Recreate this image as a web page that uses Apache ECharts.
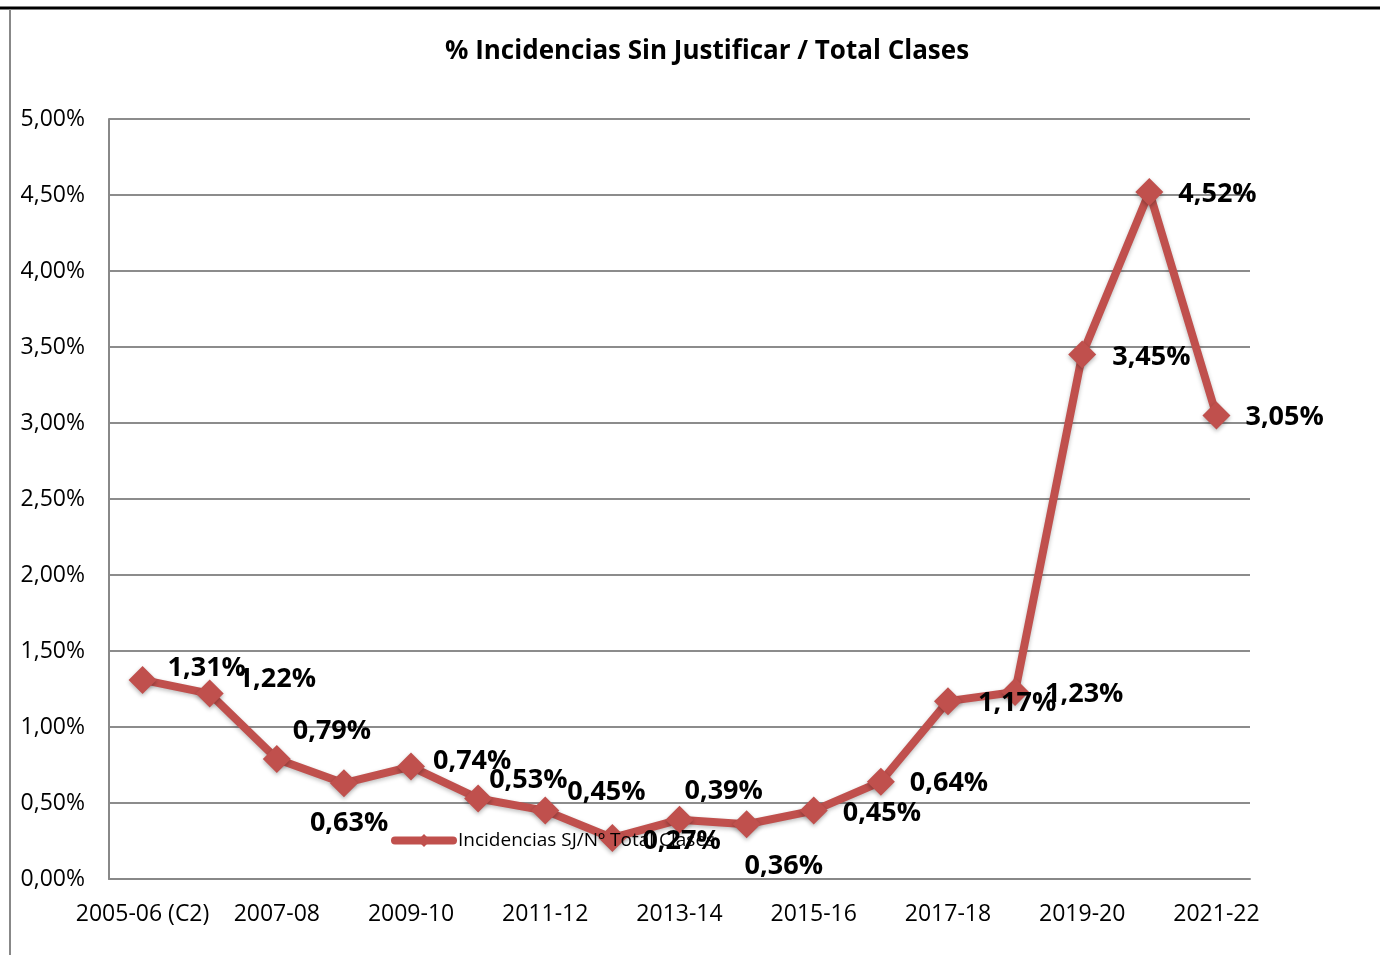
<!DOCTYPE html>
<html>
<head>
<meta charset="utf-8">
<script src="https://cdn.jsdelivr.net/npm/echarts@6/dist/echarts.min.js"></script>
<style>
html,body{margin:0;padding:0;background:#fff;}
#chart{width:1380px;height:955px;}
</style>
</head>
<body>
<div id="chart"></div>
<script>
const categories = ['2005-06 (C2)','2006-07','2007-08','2008-09','2009-10','2010-11','2011-12','2012-13','2013-14','2014-15','2015-16','2016-17','2017-18','2018-19','2019-20','2020-21','2021-22'];
const values = [1.31,1.22,0.79,0.63,0.74,0.53,0.45,0.27,0.39,0.36,0.45,0.64,1.17,1.23,3.45,4.52,3.05];
const seriesName = 'Incidencias SJ/Nº Total Clases';
const titleText = '% Incidencias Sin Justificar / Total Clases';

// label placement tweaks (styling only)
const labelOffsets = [[-3,-12],[0,-14],[-12,-28],[-62,40],[-6,-5],[-17,-18],[-6,-18],[2,3],[-23,-28],[-30,42],[1,3],[1,2],[2,2],[2,2],[2,3],[1,2],[1,2]];

const FONT = '"Open Sans", Lato, sans-serif';
const fmt = v => v.toFixed(2).replace('.', ',') + '%';

const chart = echarts.init(document.getElementById('chart'), null, {renderer:'canvas'});
chart.setOption({
  backgroundColor:'#fff',
  animation:false,
  title:{
    text:titleText, left:440, top:34,
    textStyle:{fontFamily:FONT, fontSize:26, fontWeight:'bold', color:'#000'}
  },
  legend:{
    data:[seriesName], left:386, top:826,
    itemWidth:58, itemHeight:16, itemGap:3,
    lineStyle:{width:8, cap:'round'},
    textStyle:{fontFamily:FONT, fontSize:19, color:'#000'}
  },
  grid:{left:109, right:130, top:119, bottom:76, containLabel:false},
  xAxis:{
    type:'category', data:categories, boundaryGap:true,
    axisLine:{lineStyle:{color:'#888', width:2}},
    axisTick:{show:false},
    axisLabel:{interval:1, margin:24, fontFamily:FONT, fontSize:23, color:'#000'}
  },
  yAxis:{
    type:'value', min:0, max:5, interval:0.5,
    axisLine:{show:true, lineStyle:{color:'#888', width:2}},
    axisTick:{show:false},
    splitLine:{lineStyle:{color:'#8c8c8c', width:2}},
    axisLabel:{margin:24, fontFamily:FONT, fontSize:23, color:'#000', formatter:v=>fmt(v)}
  },
  graphic:[
    {type:'line', shape:{x1:0,y1:8,x2:1380,y2:8}, style:{stroke:'#000', lineWidth:3}},
    {type:'line', shape:{x1:10,y1:9,x2:10,y2:955}, style:{stroke:'#888', lineWidth:2}}
  ],
  series:[{
    name:seriesName, type:'line',
    data: values,
    symbol:'diamond', symbolSize:28,
    lineStyle:{color:'#C0504D', width:8, shadowColor:'rgba(0,0,0,0.25)', shadowBlur:4, shadowOffsetY:2},
    itemStyle:{color:'#C0504D', shadowColor:'rgba(0,0,0,0.3)', shadowBlur:4, shadowOffsetY:2},
    label:{
      show:true, position:'right', distance:14,
      fontFamily:FONT, fontSize:27, fontWeight:'bold', color:'#000',
      formatter:p=>fmt(p.value)
    },
    labelLayout: p => ({dx:labelOffsets[p.dataIndex][0], dy:labelOffsets[p.dataIndex][1], hideOverlap:false})
  }]
});
</script>
</body>
</html>
